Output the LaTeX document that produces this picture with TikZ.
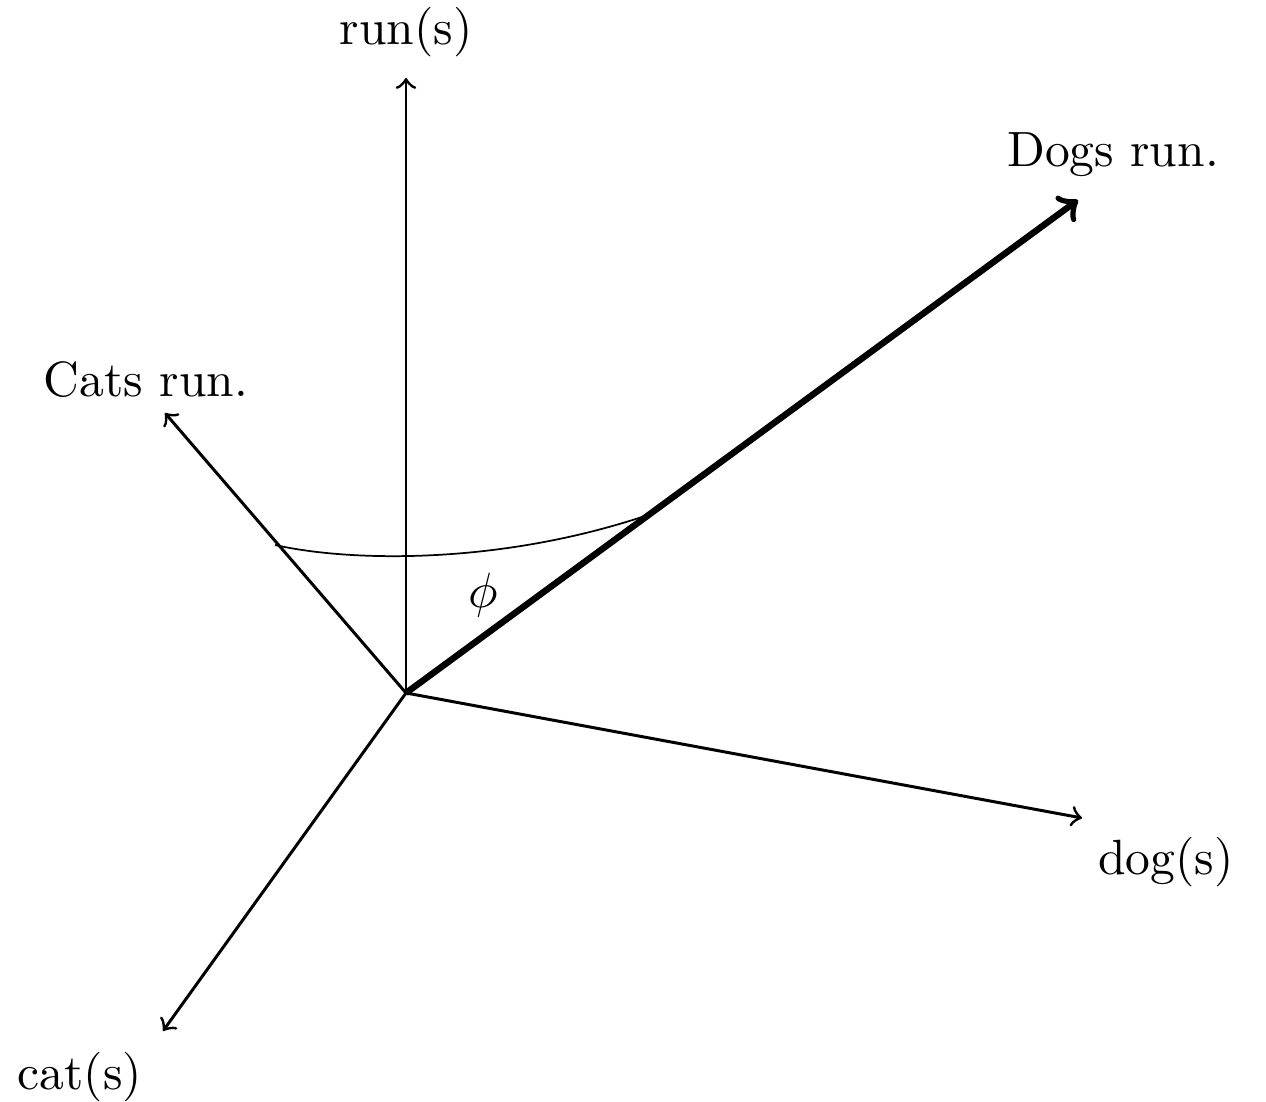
\documentclass[tikz,border=0pt]{standalone}
\begin{document}
\begin{tikzpicture}[x=0.00709cm,y=-0.00709cm,
  axis/.style={->,line width=0.6pt},
  vec/.style={->,line width=1.3pt},
  lbl/.style={inner sep=0pt,font=\fontsize{10}{12}\selectfont}]
\useasboundingbox (0,0) rectangle (1266,1102);
\coordinate (o) at (406,693);
\coordinate (runE) at (406,78);
\coordinate (dogsE) at (1078,200);
\coordinate (catsE) at (165,413);
\coordinate (dogE) at (1082,818);
\coordinate (catE) at (163,1031);
\coordinate (a1) at (275,545);
\coordinate (a2) at (648,515);
\draw[axis] (o) -- (runE);
\draw[axis] (o) -- (catsE);
\draw[axis] (o) -- (dogE);
\draw[axis] (o) -- (catE);
\draw[vec] (o) -- (dogsE);
\draw[line width=0.35pt] (a1) .. controls (350,562) and (500,565) .. (a2);
\node[lbl] (runL) at (406,32) {run(s)};
\node[lbl] (dogsL) at (1113,155) {Dogs run.};
\node[lbl] (catsL) at (146,380) {Cats run.};
\node[lbl] (dogL) at (1166,862) {dog(s)};
\node[lbl] (catL) at (80,1077) {cat(s)};
\node[lbl] (phi) at (483,595) {$\phi$};
\end{tikzpicture}
\end{document}
